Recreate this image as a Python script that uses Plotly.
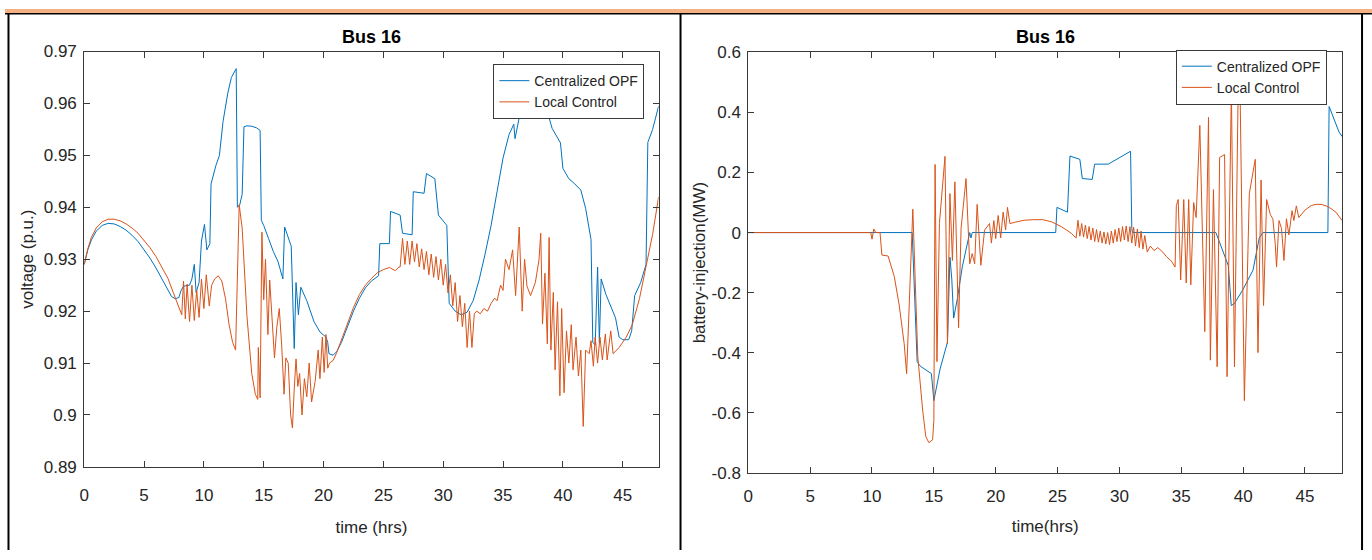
import plotly.graph_objects as go

# ---------------- data ----------------
# Bus 16 voltage (p.u.) vs time (hrs)
volt_opf_t = [0.0, 0.3, 0.6, 1.0, 1.5, 2.0, 2.5, 3.0, 3.5, 4.0, 4.5, 5.0, 5.5, 6.0, 6.5, 7.0, 7.3, 7.6,
              7.9, 8.1, 8.3, 8.8, 9.0, 9.2, 9.35, 9.6, 9.8, 10.05, 10.25, 10.5, 10.6, 11.0, 11.3, 11.6,
              12.0, 12.3, 12.7, 12.8, 13.0, 13.2, 13.35, 13.6, 14.0, 14.4, 14.7, 14.8, 15.0, 15.4, 15.8,
              16.2, 16.5, 16.6, 16.75, 17.0, 17.3, 17.55, 17.7, 17.9, 18.1, 18.6, 19.2, 19.7, 20.2, 20.35,
              20.45, 20.8, 21.1, 21.5, 22.0, 22.5, 23.0, 23.5, 24.0, 24.6, 24.7, 25.5, 25.6, 26.4, 26.6,
              27.4, 27.5, 28.4, 28.6, 29.3, 29.6, 30.3, 30.5, 31.0, 31.5, 32.0, 32.5, 33.0, 33.5, 34.0,
              34.5, 35.0, 35.5, 35.9, 36.0, 36.1, 36.5, 37.0, 37.5, 38.0, 38.5, 38.85, 39.1, 39.8, 40.0,
              40.5, 41.0, 41.5, 41.9, 42.35, 42.5, 42.7, 42.9, 43.05, 43.2, 43.6, 44.0, 44.4, 44.7, 45.0,
              45.5, 45.75, 46.0, 46.5, 46.95, 47.1, 47.5, 48.0]
volt_opf_v = [0.9290, 0.9318, 0.9337, 0.9354, 0.9365, 0.9369, 0.9368, 0.9363, 0.9356, 0.9346, 0.9334,
              0.9319, 0.9302, 0.9283, 0.9262, 0.9240, 0.9228, 0.9224, 0.9226, 0.9240, 0.9248, 0.9250,
              0.9262, 0.9290, 0.9236, 0.9255, 0.9335, 0.9367, 0.9318, 0.9330, 0.9445, 0.9480, 0.9500,
              0.9565, 0.9620, 0.9650, 0.9667, 0.9400, 0.9405, 0.9425, 0.9555, 0.9557, 0.9556, 0.9553,
              0.9548, 0.9375, 0.9365, 0.9340, 0.9315, 0.9295, 0.9270, 0.9262, 0.9362, 0.9345, 0.9325,
              0.9128, 0.9255, 0.9193, 0.9246, 0.9220, 0.9180, 0.9160, 0.9150, 0.9140, 0.9118, 0.9115,
              0.9122, 0.9140, 0.9170, 0.9200, 0.9225, 0.9245, 0.9258, 0.9268, 0.9330, 0.9330, 0.9392,
              0.9385, 0.9350, 0.9347, 0.9430, 0.9427, 0.9465, 0.9455, 0.9385, 0.9365, 0.9215, 0.9200,
              0.9193, 0.9198, 0.9220, 0.9260, 0.9310, 0.9365, 0.9430, 0.9495, 0.9540, 0.9560, 0.9532,
              0.9545, 0.9590, 0.9630, 0.9663, 0.9640, 0.9600, 0.9570, 0.9552, 0.9524, 0.9475, 0.9455,
              0.9445, 0.9433, 0.9398, 0.9338, 0.9140, 0.9135, 0.9285, 0.9140, 0.9262, 0.9232, 0.9210,
              0.9187, 0.9150, 0.9145, 0.9145, 0.9162, 0.9230, 0.9255, 0.9290, 0.9525, 0.9550, 0.9595]

volt_loc_t = [0.0, 0.3, 0.6, 1.0, 1.5, 2.0, 2.5, 3.0, 3.5, 4.0, 4.5, 5.0, 5.5, 6.0, 6.5, 7.0, 7.44, 7.8,
              8.15, 8.3, 8.45, 8.6, 8.8, 9.0, 9.2, 9.4, 9.6, 9.8, 10.0, 10.2, 10.45, 10.65, 10.9, 11.2,
              11.5, 11.8, 12.1, 12.4, 12.65, 12.95, 13.2, 13.6, 14.0, 14.3, 14.5, 14.55, 14.7, 14.85,
              15.0, 15.15, 15.35, 15.5, 15.7, 15.9, 16.1, 16.3, 16.5, 16.7, 16.85, 17.05, 17.25, 17.4,
              17.55, 17.7, 17.85, 18.0, 18.2, 18.4, 18.6, 18.8, 19.0, 19.3, 19.55, 19.7, 19.9, 20.05,
              20.2, 20.35, 20.5, 20.8, 21.1, 21.5, 22.0, 22.5, 23.0, 23.5, 24.0, 24.5, 25.0, 25.5, 26.0,
              26.3, 26.4, 26.6, 26.8, 27.0, 27.2, 27.4, 27.6, 27.8, 28.0, 28.2, 28.4, 28.6, 28.8, 29.0,
              29.2, 29.4, 29.6, 29.8, 30.0, 30.2, 30.4, 30.6, 30.8, 31.0, 31.2, 31.4, 31.6, 31.8, 32.0,
              32.2, 32.4, 32.6, 32.8, 33.1, 33.4, 33.7, 34.0, 34.3, 34.5, 34.8, 35.0, 35.2, 35.5, 35.8,
              36.05, 36.35, 36.6, 36.8, 37.0, 37.3, 37.7, 38.0, 38.15, 38.3, 38.5, 38.7, 38.85, 39.0,
              39.2, 39.35, 39.55, 39.75, 39.9, 40.1, 40.3, 40.5, 40.7, 40.85, 41.1, 41.3, 41.5, 41.7,
              41.9, 42.2, 42.35, 42.55, 42.7, 42.9, 43.1, 43.3, 43.55, 43.7, 44.0, 44.2, 44.7, 45.3,
              45.8, 46.4, 46.95, 47.5, 48.0]
volt_loc_v = [0.9290, 0.9320, 0.9342, 0.9360, 0.9372, 0.9377, 0.9377, 0.9374, 0.9368, 0.9360, 0.9350,
              0.9337, 0.9322, 0.9305, 0.9285, 0.9263, 0.9236, 0.9212, 0.9193, 0.9258, 0.9185, 0.9252,
              0.9180, 0.9250, 0.9182, 0.9240, 0.9188, 0.9262, 0.9205, 0.9270, 0.9210, 0.9250, 0.9262,
              0.9268, 0.9258, 0.9225, 0.9175, 0.9140, 0.9125, 0.9405, 0.9360, 0.9190, 0.9080, 0.9040,
              0.9030, 0.9130, 0.9033, 0.9352, 0.9222, 0.9300, 0.9155, 0.9260, 0.9180, 0.9110, 0.9170,
              0.9205, 0.9135, 0.9040, 0.9110, 0.9100, 0.9000, 0.8975, 0.9050, 0.9108, 0.9055, 0.9080,
              0.9000, 0.9070, 0.9035, 0.9100, 0.9025, 0.9065, 0.9125, 0.9070, 0.9150, 0.9082, 0.9155,
              0.9090, 0.9100, 0.9105, 0.9120, 0.9145, 0.9178, 0.9207, 0.9232, 0.9250, 0.9263, 0.9274,
              0.9280, 0.9284, 0.9278, 0.9285, 0.9285, 0.9340, 0.9290, 0.9335, 0.9290, 0.9335, 0.9295,
              0.9330, 0.9285, 0.9320, 0.9280, 0.9315, 0.9270, 0.9310, 0.9265, 0.9305, 0.9260, 0.9300,
              0.9250, 0.9290, 0.9235, 0.9270, 0.9210, 0.9255, 0.9180, 0.9230, 0.9170, 0.9215, 0.9130,
              0.9200, 0.9130, 0.9195, 0.9200, 0.9195, 0.9205, 0.9200, 0.9215, 0.9225, 0.9220, 0.9250,
              0.9240, 0.9300, 0.9280, 0.9318, 0.9230, 0.9362, 0.9200, 0.9300, 0.9248, 0.9230, 0.9255,
              0.9298, 0.9350, 0.9175, 0.9273, 0.9137, 0.9342, 0.9125, 0.9236, 0.9087, 0.9218, 0.9037,
              0.9205, 0.9043, 0.9162, 0.9100, 0.9174, 0.9087, 0.9150, 0.9075, 0.9125, 0.8978, 0.9125,
              0.9118, 0.9143, 0.9094, 0.9150, 0.9100, 0.9150, 0.9106, 0.9156, 0.9106, 0.9162, 0.9118,
              0.9130, 0.9150, 0.9174, 0.9224, 0.9286, 0.9348, 0.9420]

# Bus 16 battery injection (MW) vs time (hrs)
batt_opf_t = [0.0, 13.25, 13.65, 13.9, 14.8, 15.0, 15.5, 16.1, 16.3, 16.45, 16.6, 16.9, 17.3, 17.7,
              17.9, 18.0, 18.1, 24.85, 24.95, 25.8, 26.0, 26.8, 27.0, 27.8, 28.0, 29.1, 29.8, 30.3,
              30.9, 31.0, 31.05, 37.8, 38.6, 38.8, 39.04, 39.3, 39.98, 40.8, 41.3, 41.6, 46.85, 46.95,
              47.75, 48.0]
batt_opf_v = [0.0, 0.0, -0.43, -0.445, -0.47, -0.56, -0.455, -0.365, -0.082, -0.155, -0.285, -0.22,
              -0.114, -0.04, 0.0, -0.018, 0.0, 0.0, 0.084, 0.068, 0.255, 0.244, 0.18, 0.177, 0.228,
              0.228, 0.244, 0.255, 0.271, 0.014, 0.0, 0.0, -0.093, -0.11, -0.243, -0.236, -0.19,
              -0.125, -0.018, 0.0, 0.0, 0.42, 0.335, 0.32]

batt_loc_t = [0.0, 9.9, 10.0, 10.15, 10.3, 10.65, 10.8, 11.3, 11.8, 12.2, 12.6, 12.8, 13.3, 13.7, 14.1,
              14.35, 14.6, 14.9, 15.0, 15.1, 15.25, 15.45, 15.9, 16.1, 16.3, 16.5, 16.7, 17.0, 17.2,
              17.6, 17.9, 18.1, 18.3, 18.5, 18.8, 19.1, 19.5, 19.65, 19.85, 20.0, 20.2, 20.4, 20.6,
              20.8, 20.95, 21.15, 21.6, 22.3, 23.0, 23.8, 24.5, 25.3, 26.1, 26.5, 26.65, 26.8, 26.95,
              27.1, 27.25, 27.4, 27.55, 27.7, 27.85, 28.0, 28.15, 28.3, 28.45, 28.6, 28.75, 28.9, 29.05,
              29.2, 29.35, 29.5, 29.65, 29.8, 29.95, 30.1, 30.25, 30.4, 30.55, 30.7, 30.85, 31.0, 31.15,
              31.3, 31.45, 31.6, 31.75, 31.9, 32.05, 32.25, 32.5, 32.8, 33.1, 33.5, 33.8, 34.2, 34.5,
              34.6, 34.75, 34.95, 35.2, 35.4, 35.6, 35.77, 36.0, 36.2, 36.5, 36.9, 37.2, 37.35, 37.6,
              37.9, 38.1, 38.5, 38.7, 39.05, 39.3, 39.6, 39.75, 40.1, 40.5, 40.98, 41.2, 41.45, 41.65,
              41.9, 42.2, 42.4, 42.6, 42.7, 42.9, 43.1, 43.3, 43.5, 43.7, 43.95, 44.1, 44.3, 44.5,
              45.0, 45.5, 45.9, 46.3, 46.7, 47.1, 47.5, 48.0]
batt_loc_v = [0.0, 0.0, -0.022, 0.012, 0.0, 0.0, -0.075, -0.078, -0.146, -0.242, -0.37, -0.47, 0.078,
              -0.413, -0.594, -0.68, -0.70, -0.69, -0.626, 0.227, -0.43, 0.03, 0.254, -0.37, 0.13,
              -0.093, 0.169, -0.317, 0.014, 0.18, -0.104, -0.07, -0.104, 0.094, -0.109, 0.008, 0.03,
              -0.035, 0.04, -0.02, 0.057, -0.018, 0.068, 0.009, 0.084, 0.03, 0.035, 0.041, 0.043,
              0.043, 0.036, 0.02, -0.002, -0.018, 0.041, -0.012, 0.03, -0.015, 0.025, -0.02, 0.02,
              -0.025, 0.015, -0.03, 0.01, -0.032, 0.005, -0.035, 0.002, -0.038, 0.0, -0.04, 0.005,
              -0.035, 0.01, -0.03, 0.015, -0.03, 0.02, -0.025, 0.022, -0.03, 0.02, -0.035, 0.018,
              -0.045, 0.012, -0.05, 0.005, -0.055, -0.01, -0.065, -0.045, -0.06, -0.05, -0.065, -0.08,
              -0.095, -0.115, 0.09, 0.11, -0.158, 0.11, -0.168, 0.11, -0.174, 0.10, 0.05, 0.357,
              -0.33, 0.384, -0.425, 0.143, -0.447, 0.25, 0.26, -0.48, 0.48, -0.447, 0.48, 0.48, -0.56,
              0.13, 0.244, -0.40, 0.175, -0.243, 0.11, 0.06, 0.046, -0.04, -0.115, 0.04, 0.014, -0.093,
              0.046, -0.008, 0.073, 0.04, 0.089, 0.05, 0.075, 0.09, 0.094, 0.094, 0.089, 0.08, 0.068,
              0.04]

series_names = ["Centralized OPF", "Local Control"]
panel_title = "Bus 16"
x_ticks = [0, 5, 10, 15, 20, 25, 30, 35, 40, 45]
volt_ticks = [0.89, 0.90, 0.91, 0.92, 0.93, 0.94, 0.95, 0.96, 0.97]
volt_tick_text = ["0.89", "0.9", "0.91", "0.92", "0.93", "0.94", "0.95", "0.96", "0.97"]
batt_ticks = [-0.8, -0.6, -0.4, -0.2, 0.0, 0.2, 0.4, 0.6]
batt_tick_text = ["-0.8", "-0.6", "-0.4", "-0.2", "0", "0.2", "0.4", "0.6"]

# ---------------- styling ----------------
W, H = 1372, 560
BLUE = "#0072BD"
ORANGE = "#D95319"
AXC = "#3a3a3a"
TXT = "#262626"
FONT = "Liberation Sans, Arial, sans-serif"
TICK_SIZE = 17
LABEL_SIZE = 17


def px_x(v):
    return v / W


def px_y(v):
    return 1 - v / H


fig = go.Figure()

fig.add_trace(go.Scatter(x=volt_opf_t, y=volt_opf_v, mode="lines", name=series_names[0],
                         line=dict(color=BLUE, width=1), xaxis="x", yaxis="y", legend="legend"))
fig.add_trace(go.Scatter(x=volt_loc_t, y=volt_loc_v, mode="lines", name=series_names[1],
                         line=dict(color=ORANGE, width=1), xaxis="x", yaxis="y", legend="legend"))
fig.add_trace(go.Scatter(x=batt_opf_t, y=batt_opf_v, mode="lines", name=series_names[0],
                         line=dict(color=BLUE, width=1), xaxis="x2", yaxis="y2", legend="legend2"))
fig.add_trace(go.Scatter(x=batt_loc_t, y=batt_loc_v, mode="lines", name=series_names[1],
                         line=dict(color=ORANGE, width=1), xaxis="x2", yaxis="y2", legend="legend2"))

axis_common = dict(showgrid=False, zeroline=False, showline=True, linecolor=AXC, linewidth=1,
                   mirror="ticks", ticks="inside", ticklen=6, tickcolor=AXC, tickwidth=1,
                   tickfont=dict(family=FONT, size=TICK_SIZE, color=TXT))
title_font = dict(family=FONT, size=LABEL_SIZE, color=TXT)
legend_common = dict(xanchor="right", yanchor="top", bgcolor="white", bordercolor=AXC,
                     borderwidth=1, font=dict(family=FONT, size=14, color=TXT),
                     tracegroupgap=0, itemwidth=30)

left_dom = [px_x(79.5), px_x(656)]
right_dom = [px_x(746), px_x(1342)]

fig.update_layout(
    width=W, height=H,
    margin=dict(l=0, r=0, t=0, b=0),
    paper_bgcolor="white", plot_bgcolor="white",
    font=dict(family=FONT, color=TXT),
    xaxis=dict(domain=left_dom, anchor="y", range=[0, 48], tickvals=x_ticks,
               ticklabelstandoff=13,
               title=dict(text="time (hrs)", font=title_font, standoff=16),
               **axis_common),
    yaxis=dict(domain=[px_y(474), px_y(44)], anchor="x", range=[0.89, 0.97],
               tickvals=volt_ticks, ticktext=volt_tick_text, ticklabelstandoff=3,
               title=dict(text="voltage (p.u.)", font=title_font, standoff=5),
               **axis_common),
    xaxis2=dict(domain=right_dom, anchor="y2", range=[0, 48], tickvals=x_ticks,
                ticklabelstandoff=8,
                title=dict(text="time(hrs)", font=title_font, standoff=14),
                **axis_common),
    yaxis2=dict(domain=[px_y(480), px_y(45)], anchor="x2", range=[-0.8, 0.6],
                tickvals=batt_ticks, ticktext=batt_tick_text, ticklabelstandoff=3,
                title=dict(text="battery-injection(MW)", font=title_font, standoff=1),
                **axis_common),
    legend=dict(x=px_x(641.7), y=px_y(57), **legend_common),
    legend2=dict(x=px_x(1326.7), y=px_y(42), **legend_common),
    showlegend=True,
)

# panel titles
for cx in [(79.5 + 656) / 2, (746 + 1342) / 2]:
    fig.add_annotation(text="<b>" + panel_title + "</b>", x=px_x(cx), y=px_y(29),
                       xref="paper", yref="paper", xanchor="center", yanchor="middle",
                       showarrow=False, font=dict(family=FONT, size=18, color="black"))

# page frame: coloured header strip and cell borders
fig.add_shape(type="rect", xref="paper", yref="paper", x0=0, x1=1, y0=px_y(4.5), y1=1,
              fillcolor="#F4B183", line=dict(width=0), layer="above")
fig.add_shape(type="line", xref="paper", yref="paper", x0=0, x1=1, y0=px_y(5), y1=px_y(5),
              line=dict(color="black", width=1.5), layer="above")
for bx in [3.5, 678, 1362]:
    fig.add_shape(type="line", xref="paper", yref="paper", x0=px_x(bx), x1=px_x(bx),
                  y0=0, y1=px_y(5), line=dict(color="black", width=2), layer="above")

fig.write_html("out.html")
